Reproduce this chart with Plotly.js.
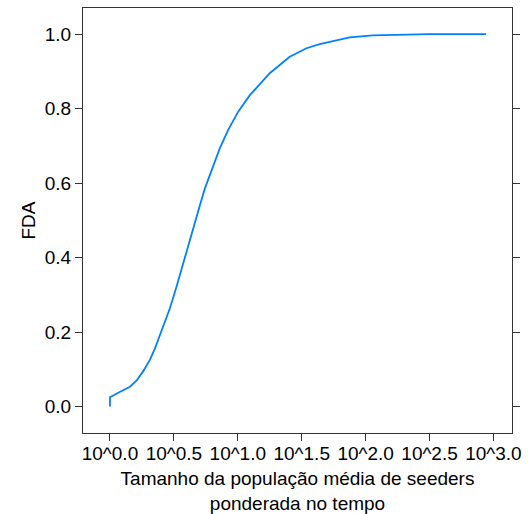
<!DOCTYPE html>
<html>
<head>
<meta charset="utf-8">
<script src="https://cdn.plot.ly/plotly-3.0.1.min.js"></script>
<style>html,body{margin:0;padding:0;background:#fff;}#chart{width:529px;height:514px;}</style>
</head>
<body>
<div id="chart"></div>
<script>
// log10 of time-weighted mean seeder population size
const logPopulation = [0, 0, 0.065, 0.156, 0.209, 0.260, 0.3125, 0.352, 0.391, 0.430, 0.469, 0.521, 0.586, 0.664, 0.703, 0.742, 0.795, 0.859, 0.924, 1.002, 1.094, 1.198, 1.25, 1.406, 1.537, 1.641, 1.784, 1.875, 2.055, 2.289, 2.5, 2.943];
// empirical cumulative distribution (FDA)
const fda = [0.0, 0.025, 0.037, 0.053, 0.070, 0.095, 0.125, 0.156, 0.192, 0.228, 0.264, 0.322, 0.402, 0.496, 0.540, 0.585, 0.635, 0.693, 0.742, 0.791, 0.836, 0.877, 0.895, 0.939, 0.962, 0.973, 0.984, 0.991, 0.9965, 0.999, 1.0, 1.0];
const xTickVals = [0, 0.5, 1, 1.5, 2, 2.5, 3];
const xTickText = ["10^0.0", "10^0.5", "10^1.0", "10^1.5", "10^2.0", "10^2.5", "10^3.0"];
const yTickVals = [0, 0.2, 0.4, 0.6, 0.8, 1.0];
const yTickText = ["0.0", "0.2", "0.4", "0.6", "0.8", "1.0"];

const font = {family: "Liberation Sans, Arial, sans-serif", size: 19, color: "#000"};

Plotly.newPlot("chart", [{
  x: logPopulation,
  y: fda,
  type: "scatter",
  mode: "lines",
  line: {color: "#0080ff", width: 1.8},
  hoverinfo: "skip"
}], {
  width: 529,
  height: 514,
  margin: {l: 83, r: 16.5, t: 8, b: 81},
  paper_bgcolor: "#fff",
  plot_bgcolor: "#fff",
  showlegend: false,
  font: font,
  xaxis: {
    range: [-0.211, 3.145],
    tickvals: xTickVals,
    ticktext: xTickText,
    ticks: "outside",
    ticklen: 7,
    ticklabelstandoff: -4,
    tickcolor: "#333",
    tickwidth: 1,
    showgrid: false,
    zeroline: false,
    showline: true,
    linecolor: "#333",
    linewidth: 1,
    mirror: true,
    tickfont: font,
    title: {text: "Tamanho da população média de seeders<br>ponderada no tempo", font: font, standoff: 9}
  },
  yaxis: {
    range: [-0.0711, 1.070],
    tickvals: yTickVals,
    ticktext: yTickText,
    ticks: "outside",
    ticklen: 7,
    tickcolor: "#333",
    tickwidth: 1,
    showgrid: false,
    zeroline: false,
    showline: true,
    linecolor: "#333",
    linewidth: 1,
    mirror: "ticks",
    tickfont: font,
    title: {text: "FDA", font: font, standoff: 4}
  }
}, {displayModeBar: false, staticPlot: true});
</script>
</body>
</html>
